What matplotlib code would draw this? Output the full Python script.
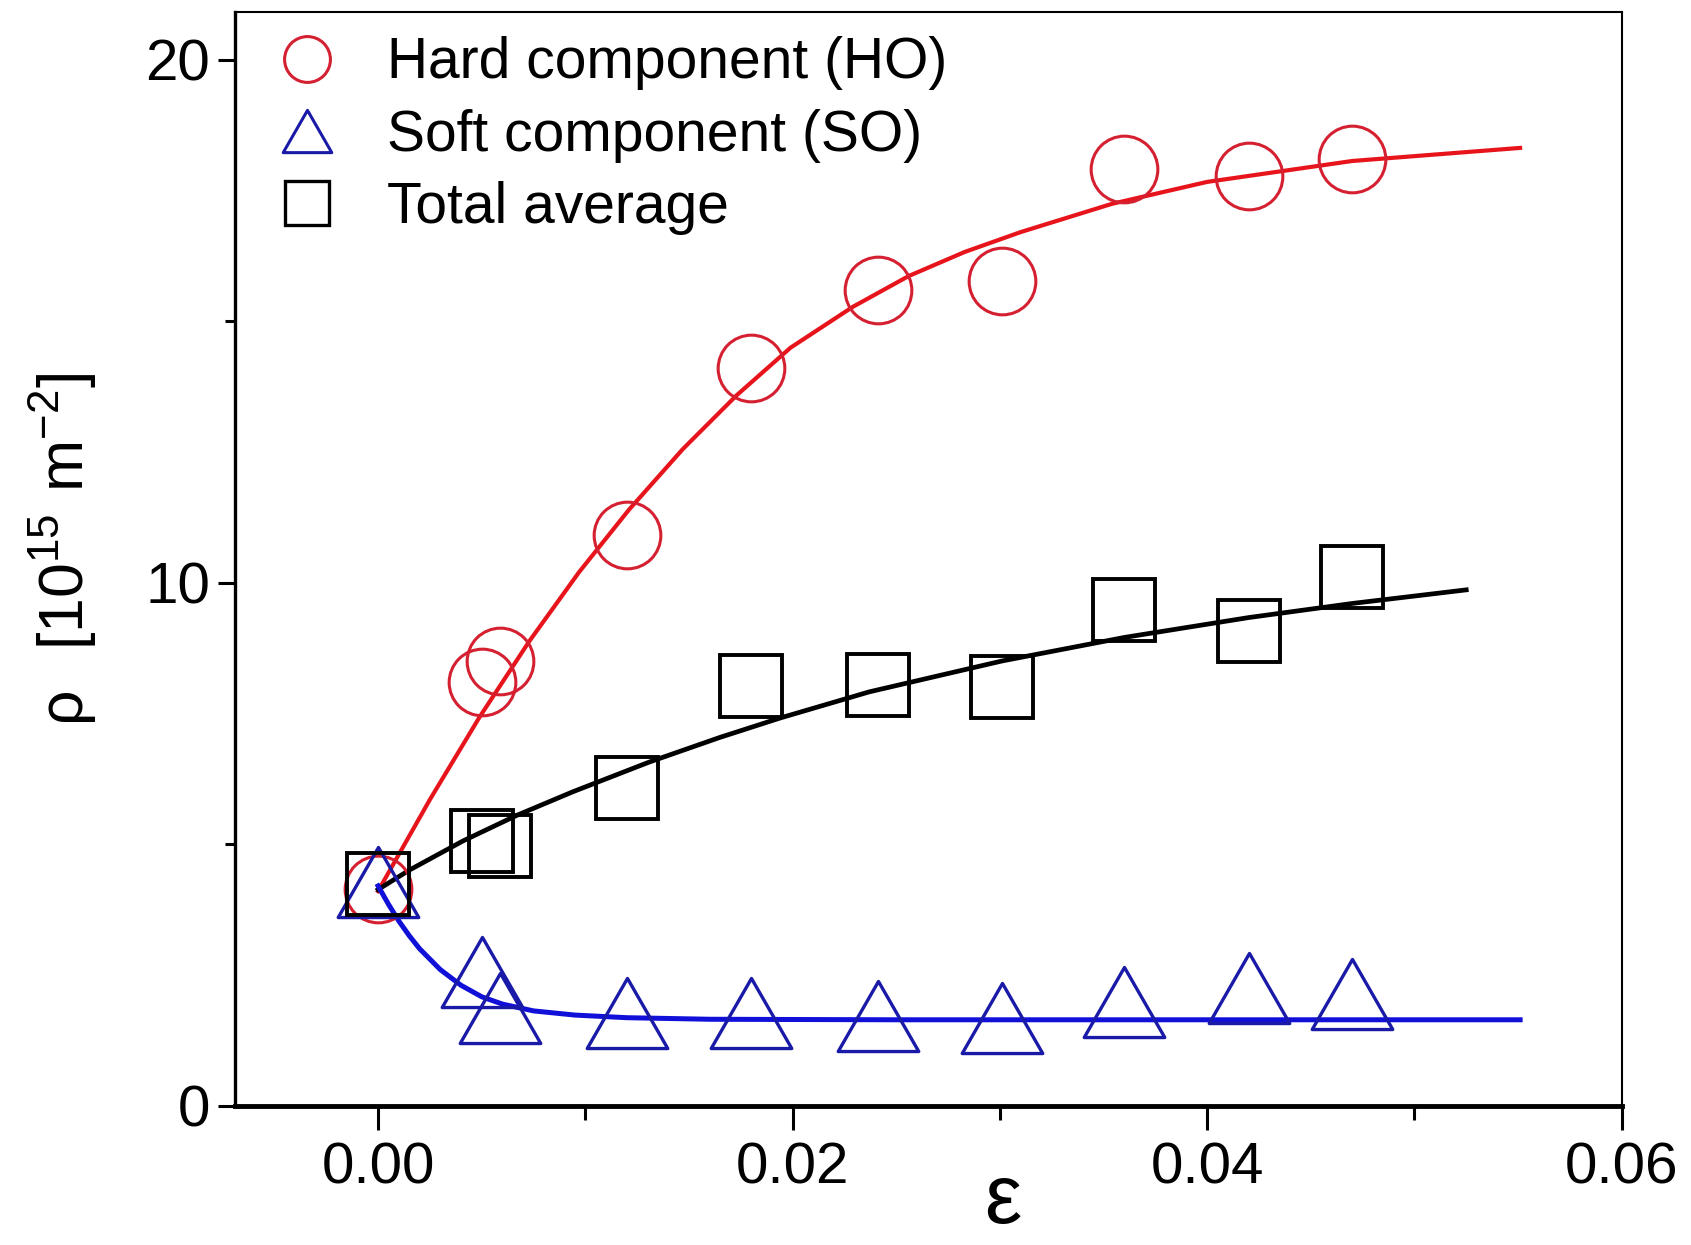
import numpy as np
import matplotlib
matplotlib.use("Agg")
import matplotlib.pyplot as plt
from matplotlib.lines import Line2D
from matplotlib.path import Path

plt.rcParams['font.family'] = ['Liberation Sans', 'DejaVu Sans']

# strain values of the measured points
eps = [0.0, 0.005, 0.0059, 0.012, 0.018, 0.0241, 0.0301, 0.036, 0.042, 0.047]

# dislocation density, 10^15 m^-2
rho_hard = [4.14, 8.1, 8.5, 10.9, 14.1, 15.6, 15.76, 17.9, 17.78, 18.1]
rho_soft = [4.28, 2.55, 1.87, 1.77, 1.77, 1.71, 1.67, 1.98, 2.25, 2.14]
rho_total = [4.24, 5.05, 4.96, 6.08, 8.03, 8.05, 8.01, 9.47, 9.08, 10.11]

# fitted curves
fit_hard_x = [0.0, 0.0025, 0.0049, 0.0073, 0.0097, 0.0121, 0.0147, 0.0173, 0.0199,
              0.0229, 0.0256, 0.0283, 0.031, 0.0354, 0.040, 0.047, 0.0551]
fit_hard_y = [4.1, 5.85, 7.43, 8.88, 10.2, 11.39, 12.55, 13.58, 14.49,
              15.27, 15.86, 16.32, 16.7, 17.24, 17.66, 18.06, 18.31]

fit_total_x = [0.0, 0.0015, 0.0041, 0.0067, 0.0094, 0.0131, 0.0165, 0.0194, 0.0237,
               0.0301, 0.036, 0.042, 0.047, 0.0525]
fit_total_y = [4.13, 4.5, 5.06, 5.55, 6.0, 6.57, 7.04, 7.41, 7.91,
               8.5, 8.95, 9.33, 9.6, 9.86]

fit_soft_x = [0.0, 0.0005, 0.001, 0.0015, 0.002, 0.003, 0.004, 0.005, 0.006,
              0.0075, 0.0095, 0.012, 0.016, 0.025, 0.0551]
fit_soft_y = [4.2, 3.85, 3.53, 3.25, 3.0, 2.6, 2.3, 2.08, 1.94,
              1.81, 1.73, 1.68, 1.65, 1.64, 1.64]

# triangle a bit wider than tall, like in the original
tri = Path([(-1.0, -0.87), (1.0, -0.87), (0.0, 0.87), (-1.0, -0.87)],
           [Path.MOVETO, Path.LINETO, Path.LINETO, Path.CLOSEPOLY])

fig = plt.figure(figsize=(16.91, 12.45), dpi=100)
ax = fig.add_axes([0.139, 0.112, 0.82, 0.878])

ax.plot(fit_hard_x, fit_hard_y, color='#e8141c', lw=3.0, zorder=3)
ax.plot(fit_total_x, fit_total_y, color='black', lw=3.4, zorder=3)
ax.plot(fit_soft_x, fit_soft_y, color='#1010d8', lw=3.6, zorder=3)

ax.plot(eps, rho_hard, 'o', ms=48, mfc='none', mec='#d42030', mew=2.2, zorder=4)
ax.plot(eps, rho_soft, ls='none', marker=tri, ms=58, mfc='none', mec='#1a1aa8', mew=2.4, zorder=4)
ax.plot(eps, rho_total, 's', ms=45, mfc='none', mec='black', mew=2.8, zorder=4)

ax.set_xlim(-0.0069, 0.06)
ax.set_ylim(0, 20.9)
ax.set_xticks([0.0, 0.02, 0.04, 0.06])
ax.set_xticklabels(['0.00', '0.02', '0.04', '0.06'])
ax.set_xticks([0.01, 0.03, 0.05], minor=True)
ax.set_yticks([0, 10, 20])
ax.set_yticks([5, 15], minor=True)

ax.tick_params(axis='both', which='major', direction='out', labelsize=42, width=2.2)
ax.tick_params(axis='x', which='major', length=17, pad=9)
ax.tick_params(axis='y', which='major', length=12, pad=6)
ax.tick_params(axis='x', which='minor', direction='out', length=10, width=2.2)
ax.tick_params(axis='y', which='minor', direction='out', length=7, width=2.2)

ax.spines['bottom'].set_linewidth(3.5)
ax.spines['left'].set_linewidth(2.4)
ax.spines['top'].set_linewidth(1.5)
ax.spines['right'].set_linewidth(1.5)

ax.set_ylabel(r'$\mathregular{\rho\ \ [10^{15}\ m^{-2}]}$', fontsize=45)
ax.yaxis.set_label_coords(-0.098, 0.509)
ax.set_xlabel(r'$\mathregular{\varepsilon}$', fontsize=60)
ax.xaxis.set_label_coords(0.554, -0.052)

handles = [
    Line2D([], [], ls='none', marker='o', ms=33, mfc='none', mec='#d42030', mew=2.2),
    Line2D([], [], ls='none', marker=tri, ms=35, mfc='none', mec='#1a1aa8', mew=2.2),
    Line2D([], [], ls='none', marker='s', ms=31, mfc='none', mec='black', mew=2.4),
]
labels = ['Hard component (HO)', 'Soft component (SO)', 'Total average']
ax.legend(handles, labels, loc='upper left', bbox_to_anchor=(0.031, 0.978),
          frameon=False, fontsize=41, handlelength=1.0, handletextpad=0.92,
          labelspacing=0.32, borderaxespad=0.0, borderpad=0.0)

fig.savefig('out.png', dpi=100)
